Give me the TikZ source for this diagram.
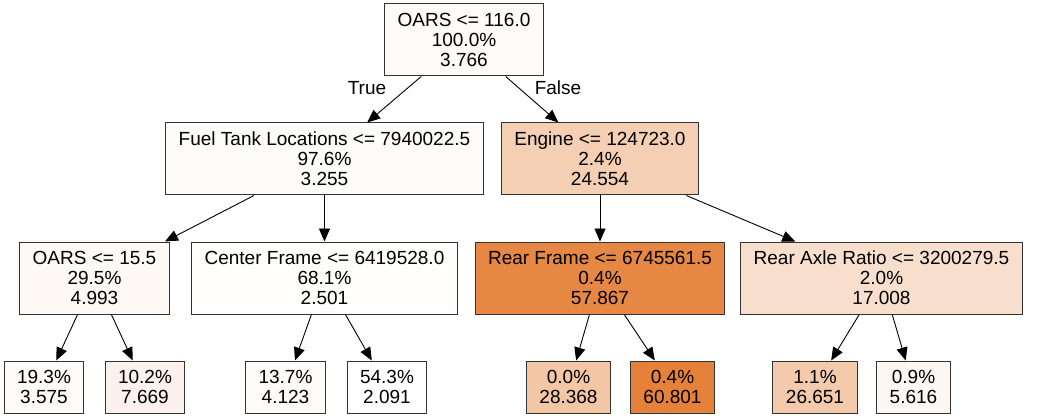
\documentclass[tikz,border=0pt]{standalone}
\usepackage{fontspec}
\setmainfont{Liberation Sans}
\usetikzlibrary{arrows.meta}
\definecolor{treeorange}{HTML}{E58139}
\begin{document}
\begin{tikzpicture}[x=1pt, y=-1pt,
  every node/.style={font=\fontsize{19}{20}\selectfont},
  split/.style={draw=black!80, line width=1pt, align=center, inner xsep=13pt, minimum height=72pt},
  leaf/.style={split, minimum height=52pt},
  edge/.style={-{Triangle[length=13pt,width=11pt]}, line width=0.9pt}]
  \useasboundingbox (0,0) rectangle (1037,417);

  % root
  \node[split, fill=treeorange!3] (root) at (464,40) {OARS <= 116.0\\100.0\%\\3.766};

  % level 1
  \node[split, fill=treeorange!2] (fuel) at (324.5,159) {Fuel Tank Locations <= 7940022.5\\97.6\%\\3.255};
  \node[split, fill=treeorange!38] (engine) at (600,159) {Engine <= 124723.0\\2.4\%\\24.554};

  % level 2
  \node[split, fill=treeorange!5] (oars) at (94.5,278) {OARS <= 15.5\\29.5\%\\4.993};
  \node[split, fill=treeorange!1] (center) at (324.5,278) {Center Frame <= 6419528.0\\68.1\%\\2.501};
  \node[split, fill=treeorange!95] (rearframe) at (600,278) {Rear Frame <= 6745561.5\\0.4\%\\57.867};
  \node[split, fill=treeorange!25] (rearaxle) at (881.5,278) {Rear Axle Ratio <= 3200279.5\\2.0\%\\17.008};

  % leaves
  \node[leaf, fill=treeorange!3] (l1) at (44,387) {19.3\%\\3.575};
  \node[leaf, fill=treeorange!10] (l2) at (145,387) {10.2\%\\7.669};
  \node[leaf, fill=treeorange!3] (l3) at (285.5,387) {13.7\%\\4.123};
  \node[leaf, fill=white] (l4) at (387,387) {54.3\%\\2.091};
  \node[leaf, fill=treeorange!45] (l5) at (568.5,387) {0.0\%\\28.368};
  \node[leaf, fill=treeorange] (l6) at (672.5,387) {0.4\%\\60.801};
  \node[leaf, fill=treeorange!42] (l7) at (815,387) {1.1\%\\26.651};
  \node[leaf, fill=treeorange!6] (l8) at (913.5,387) {0.9\%\\5.616};

  % edges
  \draw[edge] (root) -- (fuel);
  \draw[edge] (root) -- (engine);
  \node (truelbl) at (367,88) {True};
  \node (falselbl) at (558,88) {False};
  \draw[edge] (fuel) -- (oars);
  \draw[edge] (fuel) -- (center);
  \draw[edge] (engine) -- (rearframe);
  \draw[edge] (engine) -- (rearaxle);
  \draw[edge] (oars) -- (l1);
  \draw[edge] (oars) -- (l2);
  \draw[edge] (center) -- (l3);
  \draw[edge] (center) -- (l4);
  \draw[edge] (rearframe) -- (l5);
  \draw[edge] (rearframe) -- (l6);
  \draw[edge] (rearaxle) -- (l7);
  \draw[edge] (rearaxle) -- (l8);
\end{tikzpicture}
\end{document}
